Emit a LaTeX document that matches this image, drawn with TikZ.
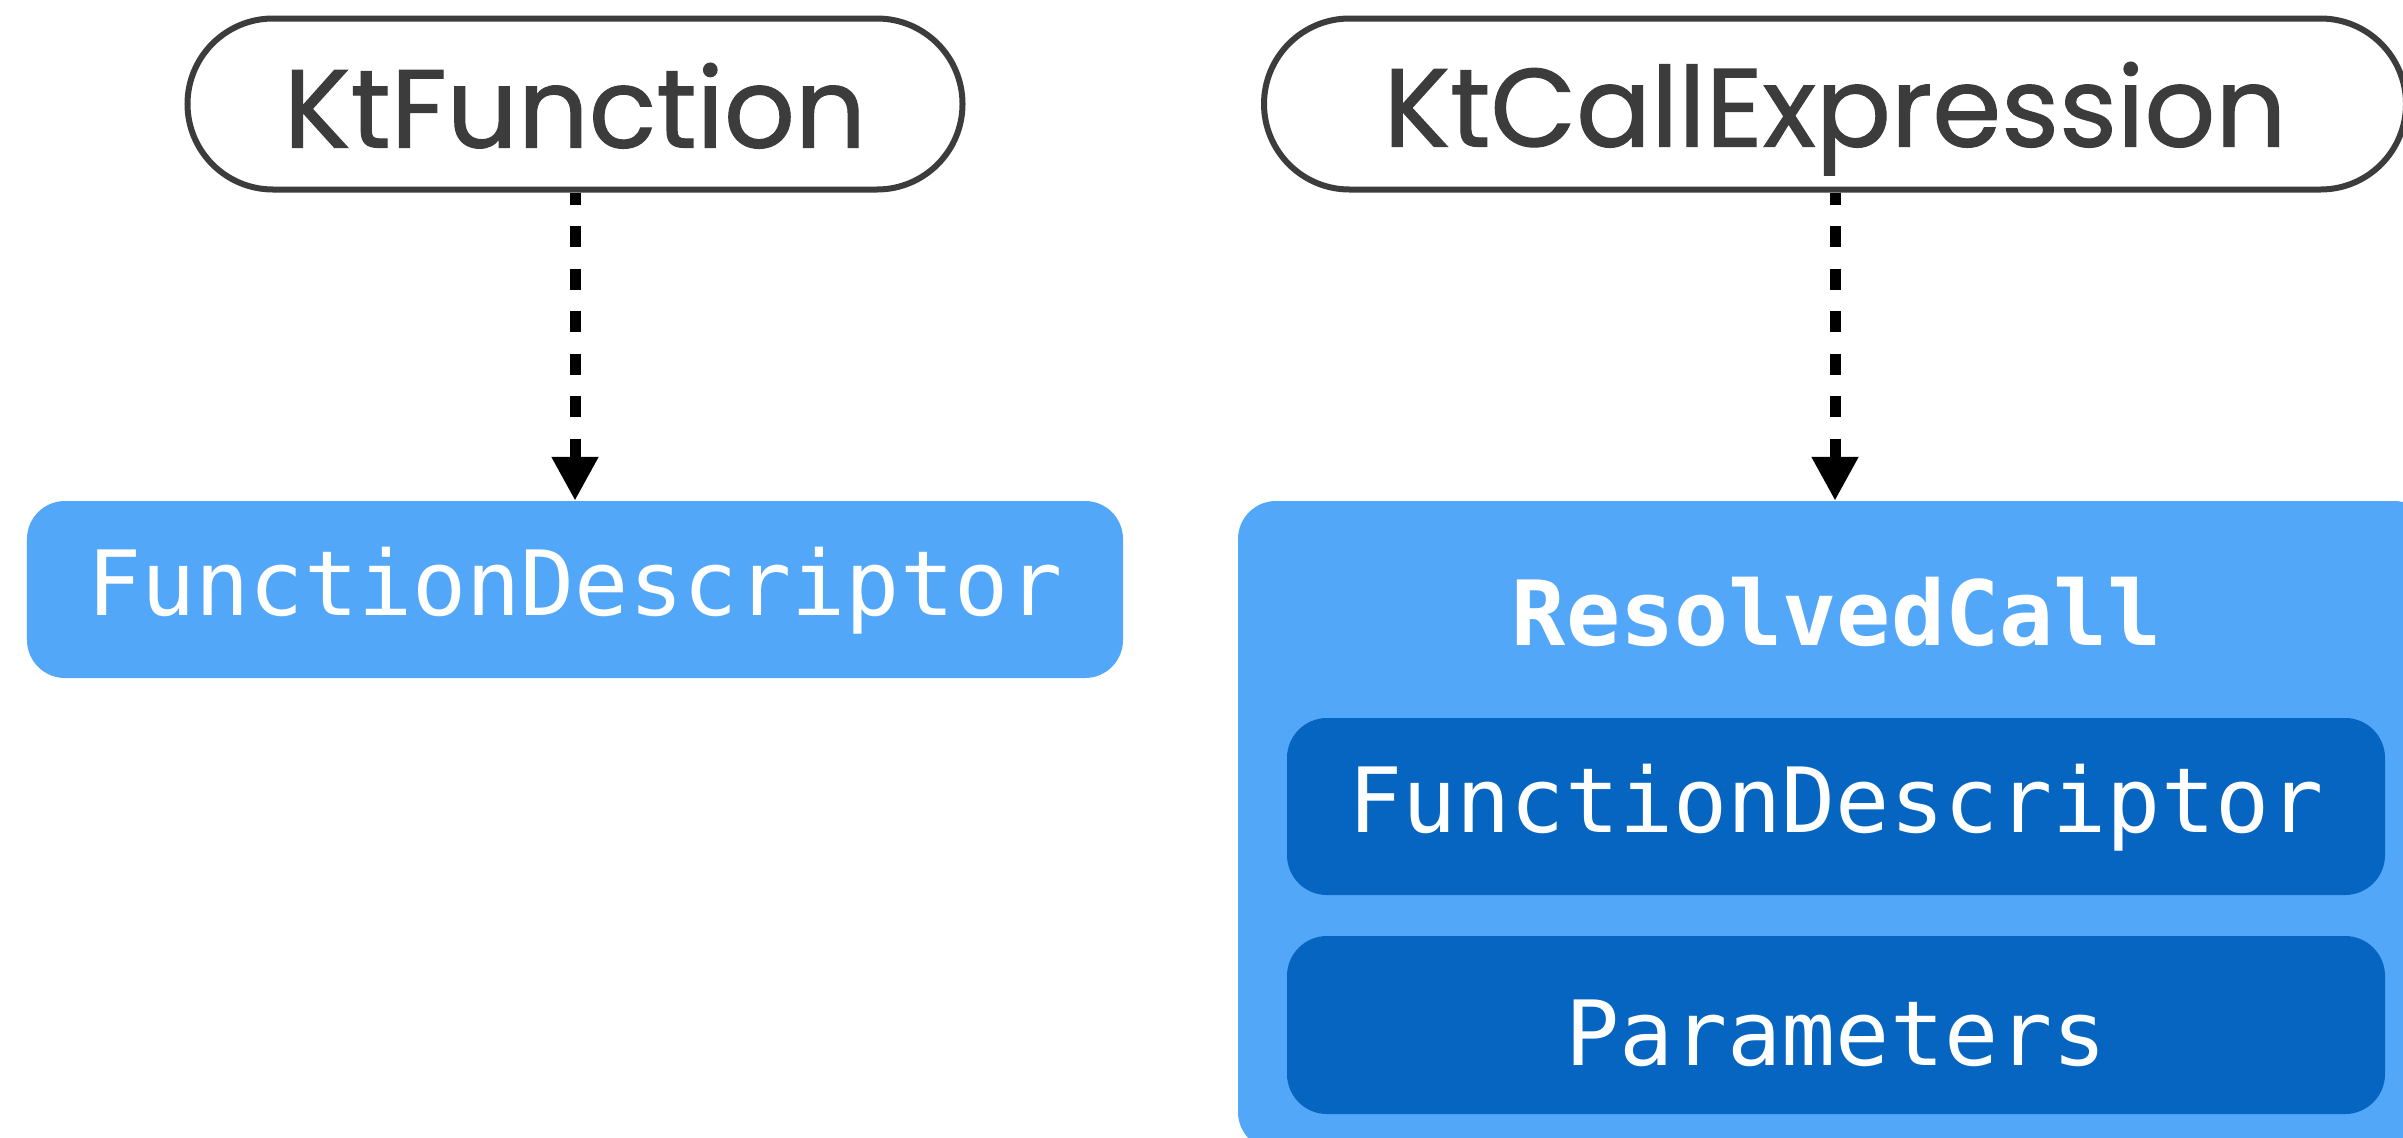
\documentclass[tikz,border=0pt]{standalone}
\usepackage{fontspec}
\usetikzlibrary{arrows.meta}
\newfontfamily\labelsans{Poppins}[FakeBold=1]
\newfontfamily\codemono{DejaVu Sans Mono}
\definecolor{ink}{HTML}{3C3C3C}
\definecolor{lightblue}{HTML}{52A7F9}
\definecolor{darkblue}{HTML}{0565C0}
\tikzset{
  stadium/.style={draw=ink, line width=6bp, fill=white, inner sep=0pt,
    rounded corners=85.5bp, minimum height=171bp, text=ink, text depth=0pt,
    font=\labelsans\fontsize{111bp}{111bp}\selectfont},
  lightbox/.style={fill=lightblue, rounded corners=38bp, inner sep=0pt, text depth=0pt},
  darkbox/.style={fill=darkblue, rounded corners=40bp, inner sep=0pt, text depth=0pt,
    minimum width=1098bp},
  code/.style={text=white, font=\codemono\fontsize{90bp}{90bp}\selectfont},
  codebold/.style={text=white, font=\codemono\bfseries\fontsize{90bp}{90bp}\selectfont},
  link/.style={line width=11bp, dash pattern=on 21bp off 21.5bp, dash phase=9bp,
    -{Triangle[width=44bp,length=44bp]}}
}
\begin{document}
\begin{tikzpicture}[x=1bp, y=-1bp]
  \clip (0,0) rectangle (2403,1137);
  \fill[white] (0,0) rectangle (2403,1137);

  % PSI elements
  \node[stadium, minimum width=775bp, text height=87bp] (ktf) at (575,104) {KtFunction};
  \node[stadium, minimum width=1142bp, text height=85bp] (kce) at (1835,104) {KtCallExpression};

  % descriptor for the declaration
  \node[lightbox, code, minimum width=1096bp, minimum height=177bp, text height=52bp]
    (fd) at (575,589.5) {FunctionDescriptor};

  % resolved call with its parts
  \node[lightbox, minimum width=1194bp, minimum height=649bp] (rc) at (1835,825.5) {};
  \node[codebold, anchor=base, inner sep=0pt] (rctitle) at (1837,645) {ResolvedCall};
  \node[darkbox, code, minimum height=177bp, text height=51bp]
    (rcfd) at (1836,806.5) {FunctionDescriptor};
  \node[darkbox, code, minimum height=178bp, text height=80bp]
    (rcpar) at (1836,1025) {Parameters};

  % bindings
  \draw[link] (ktf.south) -- (fd.north);
  \draw[link] (kce.south) -- (kce.south |- rc.north);
\end{tikzpicture}
\end{document}
